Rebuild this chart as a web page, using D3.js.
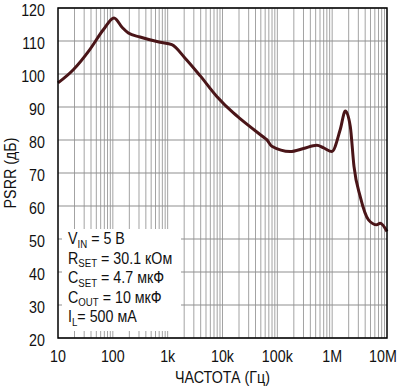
<!DOCTYPE html>
<html>
<head>
<meta charset="utf-8">
<script src="https://cdn.jsdelivr.net/npm/d3@7"></script>
<style>
  body { margin: 0; background: #fff; }
  text { font-family: "Liberation Sans", Arial, sans-serif; fill: #111; }
</style>
</head>
<body>
<div id="vis"></div>
<script>
// PSRR vs frequency
var freq = [10, 19, 38, 67, 105, 150, 192, 313, 726, 1190, 2080, 3900, 7870, 15800,
    20900, 55700, 64200, 79300, 171000, 300000, 525000, 700000, 988000, 1400000,
    1740000, 2140000, 2500000, 3240000, 4600000, 6500000, 7500000, 10000000];
var psrr = [97.3, 101.3, 107.4, 113.4, 117, 114, 112.4, 111.2, 109.6, 108.9, 104.8, 99.5,
    93.2, 88.2, 86.5, 80.9, 80.1, 78.1, 76.5, 77.4, 78.4, 77.6, 76.5, 83.1,
    88.8, 84.1, 72, 62.9, 55.8, 54.3, 54.8, 52.3];

var yTicks = [20, 30, 40, 50, 60, 70, 80, 90, 100, 110, 120];
var xTicks = [10, 100, 1e3, 1e4, 1e5, 1e6, 1e7];
var xTickLabels = ['10', '100', '1k', '10k', '100k', '1M', '10M'];

var legendLines = [
    ['V', 'IN', ' = 5 В'],
    ['R', 'SET', ' = 30.1 кОм'],
    ['C', 'SET', ' = 4.7 мкФ'],
    ['C', 'OUT', ' = 10 мкФ'],
    ['I', 'L', '= 500 мА']
];

var width = 401;
var height = 390;
var margin = { top: 8, bottom: 52, left: 58, right: 14 };
var squeeze = 0.84; // condensed look of the original type

var svg = d3.select('#vis')
    .append('svg')
    .attr('width', width)
    .attr('height', height);

var g = svg.append('g')
    .attr('transform', 'translate(' + margin.left + ',' + margin.top + ')');

var w = width - margin.left - margin.right;
var h = height - margin.top - margin.bottom;

var x_scale = d3.scaleLog().domain([10, 1e7]).range([0, w]);
var y_scale = d3.scaleLinear().domain([20, 120]).range([h, 0]);

function place(x, y) {
    return 'translate(' + x + ',' + y + ') scale(' + squeeze + ',1)';
}

// grid
var minor = [];
for (var d = 10; d < 1e7; d *= 10) {
    for (var k = 1; k <= 9; k++) minor.push(d * k);
}
g.selectAll('.vgrid')
    .data(minor.slice(1))
    .enter()
    .append('line')
    .attr('class', 'vgrid')
    .attr('x1', function(d) { return x_scale(d); })
    .attr('x2', function(d) { return x_scale(d); })
    .attr('y1', 0)
    .attr('y2', h)
    .attr('stroke', '#a3a3a3')
    .attr('stroke-width', 1);

g.selectAll('.hgrid')
    .data(yTicks)
    .enter()
    .append('line')
    .attr('class', 'hgrid')
    .attr('x1', 0)
    .attr('x2', w)
    .attr('y1', function(d) { return y_scale(d); })
    .attr('y2', function(d) { return y_scale(d); })
    .attr('stroke', '#8f8f8f')
    .attr('stroke-width', 1);

// legend box covers the grid
g.append('rect')
    .attr('x', 4)
    .attr('y', y_scale(20) - 109)
    .attr('width', 119)
    .attr('height', 102)
    .attr('fill', '#fff');

legendLines.forEach(function(l, i) {
    var t = g.append('text')
        .attr('transform', place(10, y_scale(20) - 94 + i * 19.5))
        .attr('font-size', 17);
    t.append('tspan').text(l[0]);
    t.append('tspan').attr('font-size', 11.5).attr('dy', 3.5).text(l[1]);
    t.append('tspan').attr('dy', -3.5).text(l[2]);
});

// curve
var line = d3.line()
    .x(function(d, i) { return x_scale(freq[i]); })
    .y(function(d) { return y_scale(d); })
    .curve(d3.curveMonotoneX);

g.append('path')
    .datum(psrr)
    .attr('d', line)
    .attr('fill', 'none')
    .attr('stroke', '#4a1518')
    .attr('stroke-width', 3)
    .attr('stroke-linejoin', 'round');

// frame
g.append('rect')
    .attr('width', w)
    .attr('height', h)
    .attr('fill', 'none')
    .attr('stroke', '#000')
    .attr('stroke-width', 1.5);

// tick labels
g.selectAll('.ylab')
    .data(yTicks)
    .enter()
    .append('text')
    .attr('class', 'ylab')
    .attr('transform', function(d) { return place(-13, y_scale(d) + 8); })
    .attr('text-anchor', 'end')
    .attr('font-size', 17)
    .text(function(d) { return d; });

g.selectAll('.xlab')
    .data(xTicks)
    .enter()
    .append('text')
    .attr('class', 'xlab')
    .attr('transform', function(d, i) {
        return place(x_scale(d) + (i === xTicks.length - 1 ? -4 : 0), h + 24);
    })
    .attr('text-anchor', 'middle')
    .attr('font-size', 17)
    .text(function(d, i) { return xTickLabels[i]; });

// axis titles
g.append('text')
    .attr('transform', place(w / 2, h + 45))
    .attr('text-anchor', 'middle')
    .attr('font-size', 17)
    .text('ЧАСТОТА (Гц)');

g.append('text')
    .attr('transform', 'translate(' + (-42) + ',' + (h / 2) + ') rotate(-90) scale(' + squeeze + ',1)')
    .attr('text-anchor', 'middle')
    .attr('font-size', 17)
    .text('PSRR (дБ)');
</script>
</body>
</html>
